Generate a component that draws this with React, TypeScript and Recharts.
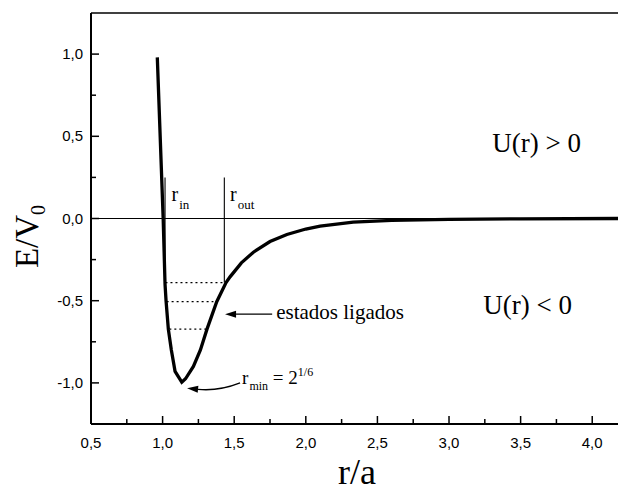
import React from "react";
import { LineChart, Line, XAxis, YAxis, ReferenceLine, ReferenceDot } from "recharts";

// potential curve (r/a, E/V0)
const rValues = [0.963, 1.004, 1.017, 1.024, 1.04, 1.061, 1.087, 1.134, 1.16, 1.215, 1.264, 1.31, 1.378, 1.443, 1.471, 1.55, 1.634, 1.75, 1.868, 2.0, 2.1, 2.331, 2.6, 3.0, 3.5, 4.18];
const energyValues = [0.98, 0.0, -0.4, -0.5, -0.673, -0.8, -0.93, -0.996, -0.975, -0.9, -0.8, -0.673, -0.506, -0.39, -0.355, -0.27, -0.205, -0.14, -0.097, -0.064, -0.046, -0.022, -0.012, -0.005, -0.002, 0.0];

const xTicks = [0.5, 0.75, 1, 1.25, 1.5, 1.75, 2, 2.25, 2.5, 2.75, 3, 3.25, 3.5, 3.75, 4];
const yTicks = [-1, -0.75, -0.5, -0.25, 0, 0.25, 0.5, 0.75, 1];

// bound states (dotted levels) and turning points
const boundLevels = [-0.39, -0.506, -0.673];
const boundFrom = [1.02, 1.028, 1.047];
const boundTo = [1.431, 1.355, 1.305];
const turningPoints = [1.017, 1.431];
const turningTop = 0.25;
const turningBottom = -0.39;

const data = rValues.map((r, i) => ({ r, e: energyValues[i] }));

const SERIF = '"Liberation Serif", "Times New Roman", serif';
const SANS = '"Liberation Sans", Arial, sans-serif';

const fmt = (v: number) => v.toFixed(1).replace(".", ",");
const isMajor = (v: number) => Math.abs(v * 2 - Math.round(v * 2)) < 1e-6;

function XTick(props: any) {
  const { x, y, payload } = props;
  const major = isMajor(payload.value);
  return (
    <g>
      <line x1={x} y1={y} x2={x} y2={y - (major ? 8 : 5)} stroke="#000" strokeWidth={1.5} />
      {major && (
        <text x={x} y={y + 24} textAnchor="middle" fontFamily={SANS} fontSize={15} fill="#000">
          {fmt(payload.value)}
        </text>
      )}
    </g>
  );
}

function YTick(props: any) {
  const { x, y, payload } = props;
  const major = isMajor(payload.value);
  return (
    <g>
      <line x1={x} y1={y} x2={x + (major ? 8 : 5)} y2={y} stroke="#000" strokeWidth={1.5} />
      {major && (
        <text x={x - 8} y={y + 5} textAnchor="end" fontFamily={SANS} fontSize={15} fill="#000">
          {fmt(payload.value)}
        </text>
      )}
    </g>
  );
}

function arrowHead(x2: number, y2: number, ang: number) {
  const len = 11;
  const hw = 3.5;
  const bx = x2 - len * Math.cos(ang);
  const by = y2 - len * Math.sin(ang);
  const px = -Math.sin(ang) * hw;
  const py = Math.cos(ang) * hw;
  return { bx, by, points: `${x2},${y2} ${bx + px},${by + py} ${bx - px},${by - py}` };
}

function StraightArrow(props: any) {
  const { x1, y1, x2, y2 } = props;
  const head = arrowHead(x2, y2, Math.atan2(y2 - y1, x2 - x1));
  return (
    <g>
      <line x1={x1} y1={y1} x2={head.bx} y2={head.by} stroke="#000" strokeWidth={1.3} />
      <polygon points={head.points} fill="#000" />
    </g>
  );
}

function CurvedArrow(props: any) {
  const { x1, y1, x2, y2 } = props;
  const cx = x2 + (x1 - x2) * 0.6;
  const cy = y2 + 3;
  const head = arrowHead(x2, y2, Math.atan2(y2 - cy, x2 - cx));
  return (
    <g>
      <path d={`M${x1},${y1} Q${cx},${cy} ${head.bx},${head.by}`} fill="none" stroke="#000" strokeWidth={1.3} />
      <polygon points={head.points} fill="#000" />
    </g>
  );
}

const RLabel = (sub: string) => (p: any) => (
  <text x={p.cx} y={p.cy} fontFamily={SERIF} fontSize={20} fill="#000">
    r
    <tspan fontSize={13} dx={1} dy={8}>{sub}</tspan>
  </text>
);

const RMinLabel = (p: any) => (
  <text x={p.cx} y={p.cy} fontFamily={SERIF} fontSize={19} fill="#000">
    r
    <tspan fontSize={12} dx={1} dy={6}>min</tspan>
    <tspan dy={-6}> = 2</tspan>
    <tspan fontSize={12} dy={-8}>1/6</tspan>
  </text>
);

const PlainLabel = (txt: string, size: number) => (p: any) => (
  <text x={p.cx} y={p.cy} fontFamily={SERIF} fontSize={size} fill="#000">
    {txt}
  </text>
);

const YLabel = (props: any) => {
  const { viewBox } = props;
  const cx = viewBox.x + 38;
  const cy = viewBox.y + viewBox.height / 2 + 18;
  return (
    <text transform={`translate(${cx},${cy}) rotate(-90)`} x={0} y={0} textAnchor="middle" fontFamily={SERIF} fontSize={33} fill="#000">
      E/V
      <tspan fontSize={20} dy={7}>0</tspan>
    </text>
  );
};

const XLabel = (props: any) => {
  const { viewBox } = props;
  return (
    <text x={viewBox.x + viewBox.width / 2 + 2.5} y={viewBox.y + 60} textAnchor="middle" fontFamily={SERIF} fontSize={36} fill="#000">
      r/a
    </text>
  );
};

export default function App() {
  return (
    <div style={{ position: "absolute", left: 0, top: 0, background: "#fff" }}>
      <LineChart width={618} height={495} data={data} margin={{ top: 13, right: 0, bottom: 41, left: 0 }}>
        <XAxis
          dataKey="r"
          type="number"
          domain={[0.5, 4.18]}
          ticks={xTicks}
          interval={0}
          allowDataOverflow
          height={30}
          tickSize={0}
          tickMargin={0}
          tickLine={false}
          tick={XTick}
          axisLine={{ stroke: "#000", strokeWidth: 2 }}
          label={{ content: XLabel }}
        />
        <YAxis
          type="number"
          domain={[-1.25, 1.25]}
          ticks={yTicks}
          interval={0}
          allowDataOverflow
          width={91}
          tickSize={0}
          tickMargin={0}
          tickLine={false}
          tick={YTick}
          axisLine={{ stroke: "#000", strokeWidth: 2 }}
          label={{ content: YLabel }}
        />
        <ReferenceLine y={1.25} stroke="#000" strokeWidth={1.5} />
        <ReferenceLine y={0} stroke="#000" strokeWidth={1.2} />
        {turningPoints.map((r) => (
          <ReferenceLine key={r} segment={[{ x: r, y: turningTop }, { x: r, y: turningBottom }]} stroke="#000" strokeWidth={1.1} />
        ))}
        {boundLevels.map((lv, i) => (
          <ReferenceLine
            key={lv}
            segment={[{ x: boundFrom[i], y: lv }, { x: boundTo[i], y: lv }]}
            stroke="#000"
            strokeWidth={1.2}
            strokeDasharray="2 3"
          />
        ))}
        <Line dataKey="e" type="linear" stroke="#000" strokeWidth={3.3} dot={false} isAnimationActive={false} />
        <ReferenceLine segment={[{ x: 1.765, y: -0.582 }, { x: 1.436, y: -0.582 }]} shape={StraightArrow} />
        <ReferenceLine segment={[{ x: 1.541, y: -1.0 }, { x: 1.171, y: -1.033 }]} shape={CurvedArrow} />
        <ReferenceDot x={1.062} y={0.106} r={0} shape={RLabel("in")} />
        <ReferenceDot x={1.471} y={0.106} r={0} shape={RLabel("out")} />
        <ReferenceDot x={1.555} y={-1.006} r={0} shape={RMinLabel} />
        <ReferenceDot x={1.793} y={-0.611} r={0} shape={PlainLabel("estados ligados", 21)} />
        <ReferenceDot x={3.302} y={0.404} r={0} shape={PlainLabel("U(r) > 0", 27)} />
        <ReferenceDot x={3.239} y={-0.578} r={0} shape={PlainLabel("U(r) < 0", 27)} />
      </LineChart>
    </div>
  );
}
